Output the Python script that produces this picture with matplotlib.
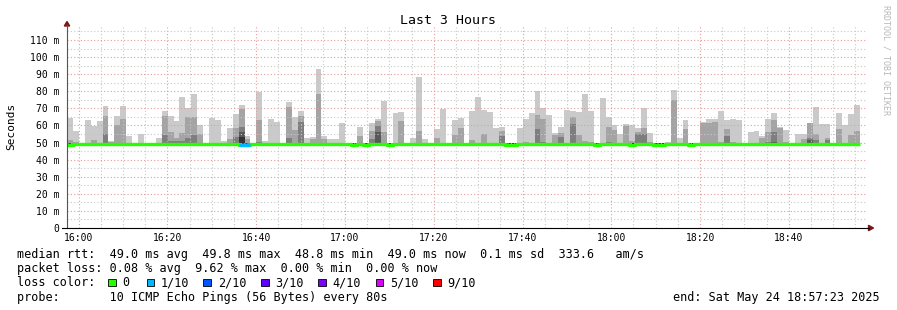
import numpy as np
import matplotlib.pyplot as plt
from matplotlib.patches import Rectangle, Polygon
from matplotlib.lines import Line2D

plt.rcParams['font.family'] = ['DejaVu Sans Mono', 'DejaVu Sans']

# --------- data (80 s steps starting at 15:57:23) ---------

START = '15:57:23'
STEP_SEC = 80

# max ping per step (light smoke)
smoke_max = [
    64.2, 56.8, 49.8, 63.1, 59.7, 62.5, 71.2, 51.0, 65.4, 71.2,
    53.7, 49.8, 54.9, 49.8, 49.8, 52.5, 68.5, 65.4, 62.5, 76.5,
    70.3, 78.5, 60.1, 49.8, 64.2, 63.1, 51.0, 58.8, 66.6, 71.8,
    53.7, 49.8, 79.4, 50.8, 63.6, 61.9, 49.8, 73.6, 64.8, 68.3,
    52.5, 53.1, 92.9, 53.7, 52.0, 52.0, 61.3, 49.8, 49.8, 59.0,
    49.8, 61.3, 63.6, 74.2, 49.8, 67.2, 67.7, 49.8, 52.5, 88.2,
    52.0, 49.8, 57.8, 69.5, 49.8, 63.2, 64.5, 49.8, 68.3, 76.5,
    68.9, 67.7, 58.4, 59.0, 49.8, 49.8, 58.4, 63.6, 67.2, 80.1,
    70.1, 66.0, 55.5, 59.0, 68.9, 68.3, 67.7, 78.3, 68.3, 49.8,
    75.9, 64.8, 60.1, 54.9, 60.7, 60.1, 58.4, 70.1, 55.5, 49.8,
    49.8, 50.5, 80.6, 52.5, 63.1, 49.8, 49.8, 61.9, 63.6, 63.6,
    68.3, 63.1, 63.6, 63.1, 49.8, 56.0, 56.6, 53.7, 63.6, 67.2,
    59.0, 57.2, 49.8, 54.9, 54.9, 61.3, 70.7, 60.7, 60.7, 49.8,
    67.2, 60.1, 66.6, 71.8,
]

# 9th of 10 pings (middle smoke)
smoke_p9 = [
    51.4, 50.4, 49.5, 49.5, 51.4, 49.5, 65.4, 50.4, 60.1, 63.6,
    49.5, 49.5, 49.5, 49.5, 49.5, 49.5, 65.4, 56.2, 52.5, 55.7,
    65.0, 65.0, 54.9, 49.5, 49.5, 49.5, 49.5, 52.0, 58.8, 69.5,
    52.3, 49.5, 63.1, 49.5, 49.5, 49.5, 49.5, 70.7, 57.2, 65.4,
    49.5, 52.0, 78.5, 52.0, 49.5, 49.5, 49.5, 49.5, 49.5, 53.7,
    49.5, 56.6, 62.5, 56.0, 49.5, 49.5, 62.5, 49.5, 49.5, 56.6,
    49.5, 49.5, 52.5, 49.5, 49.5, 54.4, 58.7, 49.5, 51.4, 49.5,
    54.9, 49.5, 49.5, 56.6, 49.5, 49.5, 49.5, 50.4, 49.5, 66.0,
    63.6, 49.5, 54.3, 55.5, 49.5, 64.8, 54.3, 51.0, 50.6, 49.5,
    49.5, 59.0, 57.2, 49.5, 59.6, 51.0, 56.0, 58.4, 50.6, 49.5,
    49.5, 49.5, 74.8, 49.5, 57.8, 49.5, 49.5, 61.3, 61.3, 61.9,
    50.5, 57.8, 50.5, 49.5, 49.5, 49.5, 49.5, 52.5, 56.0, 63.1,
    58.4, 50.5, 49.5, 49.5, 52.0, 61.3, 54.9, 49.5, 52.5, 49.5,
    57.8, 49.5, 54.3, 56.6,
]

# inner smoke layers, only where they show above the median line
smoke_p8 = {6: 54.9, 16: 54.3, 17: 51.0, 18: 51.0, 19: 51.0, 20: 52.7, 21: 54.3,
            28: 53.3, 29: 59.2, 32: 50.6, 37: 52.5, 39: 61.9, 51: 52.3, 52: 59.6,
            73: 53.7, 79: 57.8, 80: 50.4, 83: 53.1, 85: 60.7, 91: 50.3, 96: 54.9,
            97: 54.9, 111: 53.7, 118: 50.5, 119: 56.0, 125: 52.5, 126: 51.4, 128: 51.4}
smoke_p7 = {29: 56.0, 52: 56.4, 119: 50.5, 125: 51.4}
smoke_p6 = {29: 53.0}

median_rtt = [
    48.8, 49.0, 49.0, 49.0, 49.0, 49.0, 49.0, 49.1, 49.0, 49.0,
    49.0, 49.0, 49.0, 49.0, 49.0, 49.0, 49.0, 49.0, 49.0, 49.0,
    49.0, 49.0, 49.0, 49.0, 49.0, 49.0, 49.0, 49.0, 49.0, 48.7,
    48.7, 49.0, 49.0, 49.0, 49.0, 49.0, 49.0, 49.0, 49.0, 49.0,
    49.0, 49.0, 49.0, 49.0, 49.0, 49.0, 49.0, 49.1, 48.8, 49.0,
    48.8, 49.0, 49.0, 49.0, 48.8, 49.0, 49.0, 49.0, 49.0, 49.0,
    49.1, 49.0, 49.0, 49.0, 49.0, 48.9, 49.0, 49.0, 49.0, 49.0,
    49.0, 49.0, 49.0, 49.0, 48.8, 48.8, 49.0, 49.0, 49.0, 49.0,
    49.0, 49.0, 49.0, 49.0, 49.0, 49.0, 49.0, 49.0, 49.0, 48.8,
    49.0, 49.0, 49.0, 49.0, 49.0, 48.8, 49.0, 49.0, 49.0, 48.8,
    48.8, 49.0, 49.0, 49.0, 49.0, 48.8, 49.0, 49.0, 49.0, 49.0,
    49.0, 49.0, 49.0, 49.0, 49.0, 49.0, 49.0, 49.0, 49.0, 49.0,
    49.0, 49.0, 49.0, 49.0, 49.0, 49.0, 49.0, 49.0, 49.0, 49.0,
    49.0, 49.0, 49.0, 49.0,
]
loss_steps = {29: 1, 30: 1}   # lost pings out of 10

tick_labels = ['16:00', '16:20', '16:40', '17:00', '17:20', '17:40', '18:00', '18:20', '18:40']
y_labels = ['0', '10 m', '20 m', '30 m', '40 m', '50 m', '60 m', '70 m', '80 m', '90 m', '100 m', '110 m']

loss_names = ['0', '1/10', '2/10', '3/10', '4/10', '5/10', '9/10']
loss_colors = ['#26ff00', '#00b8ff', '#0059ff', '#5e00ff', '#7e00ff', '#dd00ff', '#ff0000']
loss_key = {0: '#26ff00', 1: '#00b8ff'}

stats_line = 'median rtt:  49.0 ms avg  49.8 ms max  48.8 ms min  49.0 ms now  0.1 ms sd  333.6   am/s'
loss_line = 'packet loss: 0.08 % avg  9.62 % max  0.00 % min  0.00 % now'
probe_line = 'probe:       10 ICMP Echo Pings (56 Bytes) every 80s'
end_line = 'end: Sat May 24 18:57:23 2025'

# --------- helpers ---------

def to_min(s):
    parts = [int(p) for p in s.split(':')]
    m = parts[0] * 60 + parts[1] + (parts[2] / 60 if len(parts) > 2 else 0)
    return m - to_min_start

to_min_start = 0
to_min_start = to_min(START)

W, H = 897, 310
fig = plt.figure(figsize=(W / 100, H / 100), dpi=100)
fig.patch.set_facecolor('white')

def fx(x):
    return x / W

def fy(y):
    return 1 - y / H

ax = fig.add_axes([fx(67), fy(228), (866 - 67) / W, 202.5 / H])
ax.set_xlim(0, 180)
ax.set_ylim(0, 118.5)
for s in ax.spines.values():
    s.set_visible(False)

# --------- smoke ---------

n = len(smoke_max)
step = STEP_SEC / 60
t = np.arange(n) * step
floor = 48.8

def full(d):
    return np.array([d.get(i, 49.5) for i in range(n)])

layers = [(np.array(smoke_max), '#cacaca'), (np.array(smoke_p9), '#a4a4a4'),
          (full(smoke_p8), '#7e7e7e'), (full(smoke_p7), '#585858'), (full(smoke_p6), '#323232')]
for top, col in layers:
    ax.bar(t, top - floor, bottom=floor, width=step, align='edge', color=col,
           linewidth=0, antialiased=False, zorder=1)

# --------- median line coloured by loss ---------

med = np.array(median_rtt)
edges = np.append(t, t[-1] + step)
ax.plot(edges, np.append(med, med[-1]), drawstyle='steps-post', color=loss_key[0],
        lw=2.4, solid_capstyle='butt', zorder=4)
for i, l in loss_steps.items():
    ax.plot([t[i], t[i] + step], [med[i], med[i]], color=loss_key[l], lw=2.4,
            solid_capstyle='butt', zorder=5)

# --------- grid / ticks ---------

major = [to_min(s) for s in tick_labels]
minor = [m for m in np.arange(major[0], 180, 5) if min(abs(m - np.array(major))) > 0.1]
ax.set_xticks(major)
ax.set_xticklabels(tick_labels)
ax.set_xticks(minor, minor=True)
ax.set_yticks(np.arange(0, 111, 10))
ax.set_yticklabels(y_labels)
ax.set_yticks(np.arange(5, 118, 10), minor=True)
ax.set_axisbelow(False)
ax.grid(which='major', color='#e49c9c', linestyle=(0, (1, 2)), linewidth=0.8, zorder=3)
ax.grid(which='minor', color='#c8c8c8', linestyle=(0, (1, 2)), linewidth=0.8, zorder=3)
ax.tick_params(which='both', length=0, labelsize=7, colors='#000000')
ax.tick_params(axis='y', pad=5.5)
ax.tick_params(axis='x', pad=3.5)

# axis lines and arrows
fig.add_artist(Line2D([fx(67), fx(67)], [fy(228), fy(25)], color='#555555', lw=0.8))
fig.add_artist(Line2D([fx(62), fx(869)], [fy(228), fy(228)], color='#000000', lw=0.8))
fig.add_artist(Polygon([[fx(64.3), fy(26)], [fx(69.7), fy(26)], [fx(67), fy(21.5)]],
                       closed=True, color='#7d1818'))
fig.add_artist(Polygon([[fx(868.5), fy(225.3)], [fx(868.5), fy(230.7)], [fx(873.5), fy(228)]],
                       closed=True, color='#7d1818'))

# --------- texts ---------

fig.text(fx(448), fy(23.5), 'Last 3 Hours', ha='center', va='baseline', fontsize=9.5)
fig.text(fx(11), fy(126), 'Seconds', rotation=90, ha='center', va='center', fontsize=8)
fig.text(fx(886), fy(60), 'RRDTOOL / TOBI OETIKER', rotation=270, ha='center', va='center',
         fontsize=6, color='#b8b8b8')

fs = 8.5
fig.text(fx(16.7), fy(258.3), stats_line, fontsize=fs, va='baseline')
fig.text(fx(16.7), fy(272.3), loss_line, fontsize=fs, va='baseline')
fig.text(fx(16.7), fy(286.5), 'loss color:', fontsize=fs, va='baseline')
fig.text(fx(16.7), fy(300.5), probe_line, fontsize=fs, va='baseline')
fig.text(fx(880), fy(300.5), end_line, fontsize=fs, va='baseline', ha='right')

box_x = [108.3, 146.7, 203.3, 261, 318.3, 375.7, 433.3]
for bx, name, col in zip(box_x, loss_names, loss_colors):
    fig.add_artist(Rectangle((fx(bx), fy(286)), 7.5 / W, 7.5 / H, facecolor=col,
                             edgecolor='#000000', linewidth=0.6))
    fig.text(fx(bx + 14.4), fy(286.5), name, fontsize=fs, va='baseline')

fig.savefig('out.png', dpi=100)
